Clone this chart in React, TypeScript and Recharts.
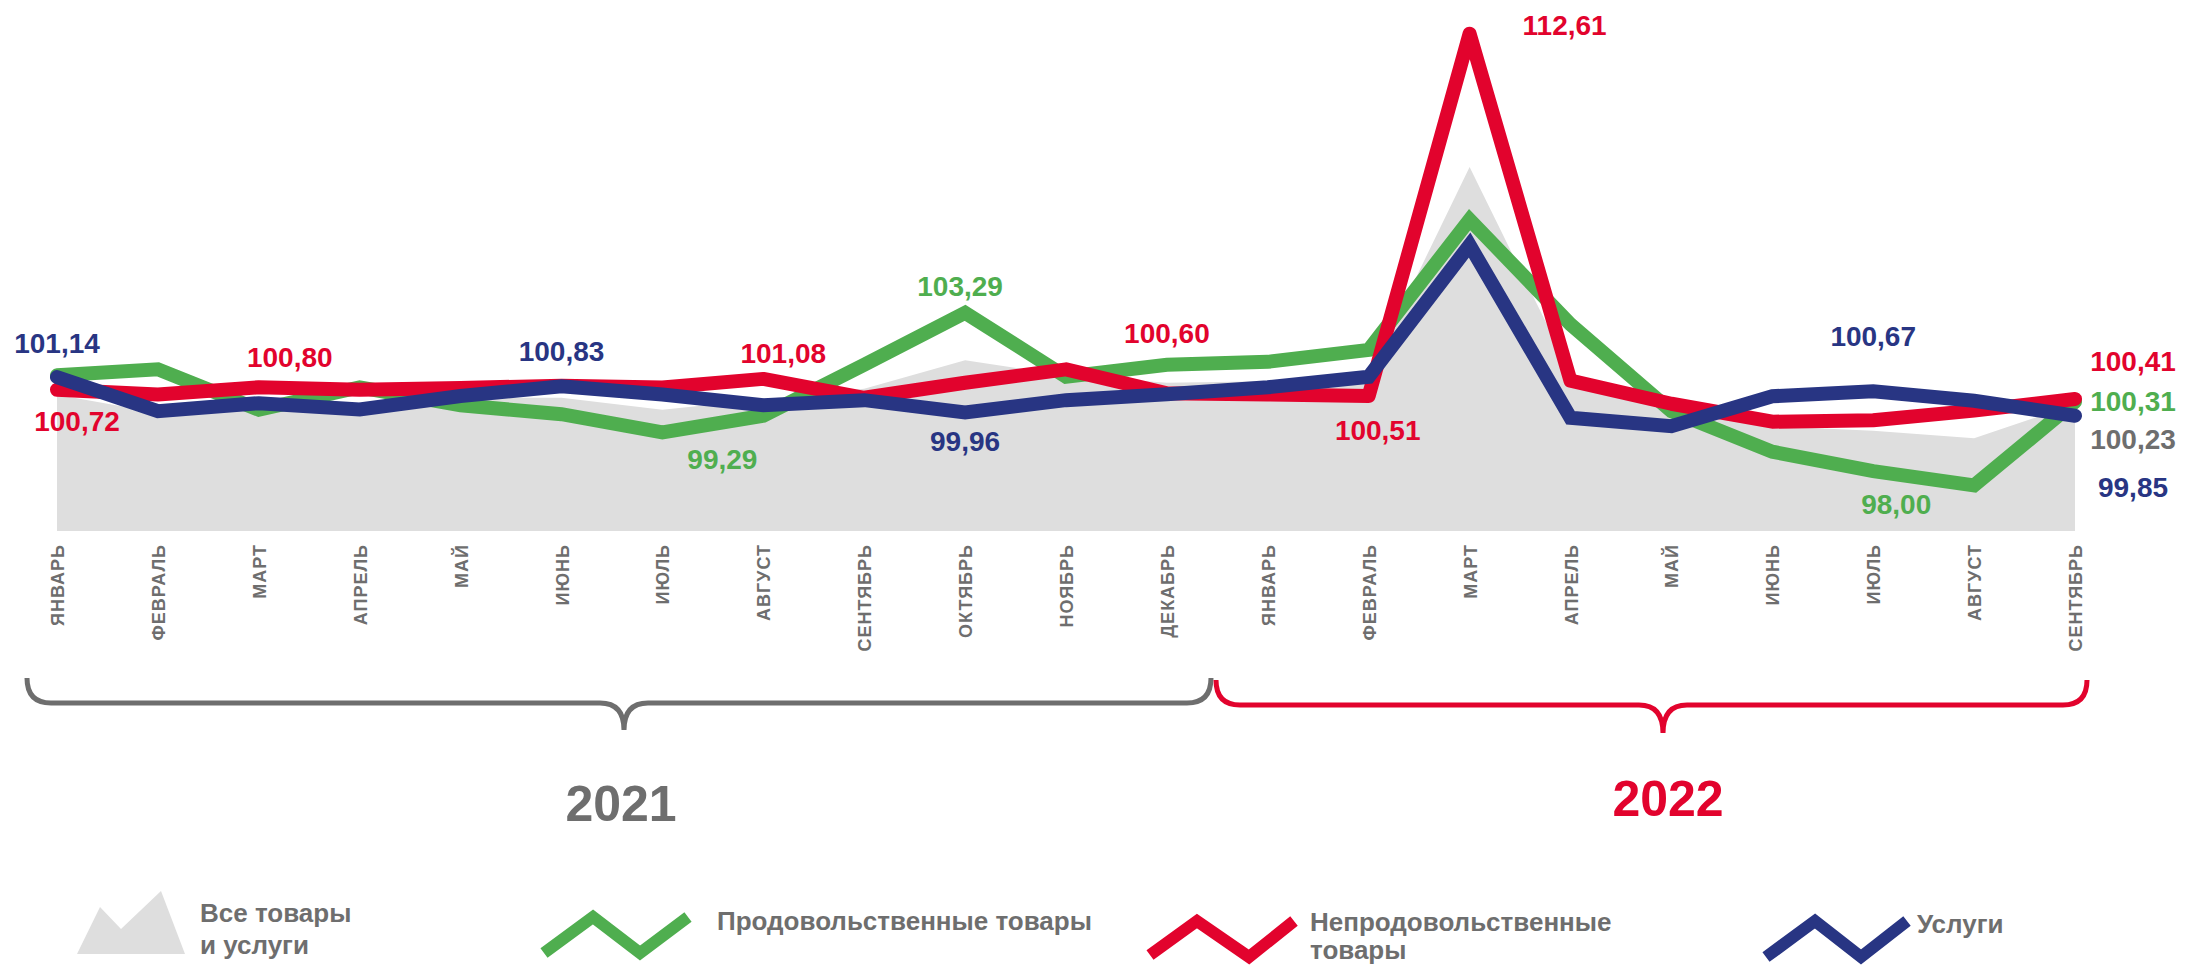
import React from 'react';
import { ComposedChart, Area, Line, XAxis, YAxis, LabelList } from 'recharts';

const months = [
  'ЯНВАРЬ', 'ФЕВРАЛЬ', 'МАРТ', 'АПРЕЛЬ', 'МАЙ', 'ИЮНЬ', 'ИЮЛЬ', 'АВГУСТ', 'СЕНТЯБРЬ', 'ОКТЯБРЬ', 'НОЯБРЬ', 'ДЕКАБРЬ',
  'ЯНВАРЬ', 'ФЕВРАЛЬ', 'МАРТ', 'АПРЕЛЬ', 'МАЙ', 'ИЮНЬ', 'ИЮЛЬ', 'АВГУСТ', 'СЕНТЯБРЬ',
];
const years = [
  2021, 2021, 2021, 2021, 2021, 2021, 2021, 2021, 2021, 2021, 2021, 2021,
  2022, 2022, 2022, 2022, 2022, 2022, 2022, 2022, 2022,
];

// все товары и услуги
const allGoods = [100.55, 99.95, 100.2, 100.05, 100.45, 100.45, 100.05, 100.4, 100.75, 101.7, 101.2, 100.95,
  101.0, 101.2, 108.16, 101.3, 100.0, 99.5, 99.35, 99.1, 100.23];
// продовольственные товары
const food = [101.2, 101.4, 100.05, 100.8, 100.2, 99.9, 99.29, 99.85, 101.55, 103.29, 101.15, 101.55,
  101.65, 102.05, 106.4, 102.9, 100.0, 98.65, 98.0, 97.52, 100.31];
// непродовольственные товары
const nonFood = [100.72, 100.56, 100.8, 100.72, 100.78, 100.85, 100.79, 101.08, 100.45, 100.95, 101.4, 100.6,
  100.56, 100.51, 112.61, 101.02, 100.25, 99.65, 99.7, 100.02, 100.41];
// услуги
const services = [101.14, 100.0, 100.27, 100.06, 100.51, 100.83, 100.56, 100.2, 100.37, 99.96, 100.37, 100.57,
  100.8, 101.15, 105.55, 99.78, 99.5, 100.5, 100.67, 100.35, 99.85];

const data = months.map((m, i) => ({
  period: `${m}-${years[i]}`,
  allGoods: allGoods[i],
  food: food[i],
  nonFood: nonFood[i],
  services: services[i],
}));

const GRAY_AREA = '#dedede';
const GRAY_TEXT = '#6e6e6e';
const GREEN = '#4fae4f';
const RED = '#e2032d';
const BLUE = '#283583';

const FONT = '"Liberation Sans", Arial, sans-serif';

// where each value label sits relative to its point
const labelOffsets: Record<string, Record<number, [number, number]>> = {
  services: { 0: [0, -34], 5: [0, -35], 9: [0, 29], 18: [0, -55], 20: [58, 72] },
  nonFood: { 0: [20, 32], 2: [31, -30], 7: [20, -25], 11: [0, -60], 13: [9, 35], 14: [95, -8], 20: [58, -37] },
  food: { 6: [60, 27], 9: [-5, -26], 18: [23, 33], 20: [58, 0] },
  allGoods: { 20: [58, 35] },
};

const fmt = (v: number) => v.toFixed(2).replace('.', ',');

const makeLabel = (key: string, color: string) => (props: any) => {
  const { x, y, value, index } = props;
  const off = labelOffsets[key][index];
  if (!off) return null;
  return (
    <text x={x + off[0]} y={y + off[1]} fill={color} fontSize={28} fontWeight="bold" fontFamily={FONT}
      textAnchor="middle" dominantBaseline="central">
      {fmt(value)}
    </text>
  );
};

const MonthTick = ({ x, y, payload }: any) => (
  <text transform={`translate(${x + 7},${y + 5}) rotate(-90)`} textAnchor="end" fill={GRAY_TEXT}
    fontSize={18} fontWeight="bold" fontFamily={FONT} letterSpacing={1}>
    {months[payload.index]}
  </text>
);

const bracePath = (x1: number, x2: number, xm: number, yTop: number, yBar: number, yTip: number) => {
  const r = 24;
  return `M ${x1} ${yTop} Q ${x1} ${yBar} ${x1 + r} ${yBar} L ${xm - r} ${yBar} Q ${xm} ${yBar} ${xm} ${yTip}`
    + ` Q ${xm} ${yBar} ${xm + r} ${yBar} L ${x2 - r} ${yBar} Q ${x2} ${yBar} ${x2} ${yTop}`;
};

function Overlay() {
  const txt = { fill: GRAY_TEXT, fontSize: 26, fontWeight: 'bold' as const, fontFamily: FONT };
  return (
    <svg width={2188} height={966} style={{ position: 'absolute', left: 0, top: 0, pointerEvents: 'none' }}>
      <path d={bracePath(27, 1211, 624, 678, 703, 730)} fill="none" stroke={GRAY_TEXT} strokeWidth={5} />
      <path d={bracePath(1216, 2087, 1663, 680, 705, 733)} fill="none" stroke={RED} strokeWidth={5} />
      <text x={621} y={821} textAnchor="middle" fill={GRAY_TEXT} fontSize={50} fontWeight="bold" fontFamily={FONT}>2021</text>
      <text x={1668} y={816} textAnchor="middle" fill={RED} fontSize={50} fontWeight="bold" fontFamily={FONT}>2022</text>

      <polygon points="77,954 100,907 121,929 161,891 185,954" fill={GRAY_AREA} />
      <text x={200} y={922} {...txt}>Все товары</text>
      <text x={200} y={954} {...txt}>и услуги</text>

      <polyline points="544,953 593,917 640,953 688,917" fill="none" stroke={GREEN} strokeWidth={12} />
      <text x={717} y={930} {...txt}>Продовольственные товары</text>

      <polyline points="1150,955 1197,921 1249,957 1294,921" fill="none" stroke={RED} strokeWidth={12} />
      <text x={1310} y={931} {...txt}>Непродовольственные</text>
      <text x={1310} y={959} {...txt}>товары</text>

      <polyline points="1766,957 1815,921 1861,957 1907,921" fill="none" stroke={BLUE} strokeWidth={12} />
      <text x={1917} y={933} {...txt}>Услуги</text>
    </svg>
  );
}

export default function App() {
  return (
    <div style={{ position: 'absolute', left: 0, top: 0, width: 2188, height: 966, background: '#fff' }}>
      <ComposedChart width={2188} height={966} data={data} margin={{ top: 22, right: 113, left: 57, bottom: 295 }}>
        <XAxis dataKey="period" scale="point" padding={{ left: 0, right: 0 }} height={140} interval={0}
          axisLine={false} tickLine={false} tick={<MonthTick />} />
        <YAxis hide domain={[96, 113]} allowDataOverflow />
        <Area dataKey="allGoods" type="linear" fill={GRAY_AREA} fillOpacity={1} stroke="none" baseValue={96}
          isAnimationActive={false}>
          <LabelList dataKey="allGoods" content={makeLabel('allGoods', GRAY_TEXT)} />
        </Area>
        <Line dataKey="food" type="linear" stroke={GREEN} strokeWidth={14} dot={false} strokeLinecap="round"
          isAnimationActive={false}>
          <LabelList dataKey="food" content={makeLabel('food', GREEN)} />
        </Line>
        <Line dataKey="nonFood" type="linear" stroke={RED} strokeWidth={14} dot={false} strokeLinecap="round"
          strokeLinejoin="round" isAnimationActive={false}>
          <LabelList dataKey="nonFood" content={makeLabel('nonFood', RED)} />
        </Line>
        <Line dataKey="services" type="linear" stroke={BLUE} strokeWidth={14} dot={false} strokeLinecap="round"
          isAnimationActive={false}>
          <LabelList dataKey="services" content={makeLabel('services', BLUE)} />
        </Line>
      </ComposedChart>
      <Overlay />
    </div>
  );
}
